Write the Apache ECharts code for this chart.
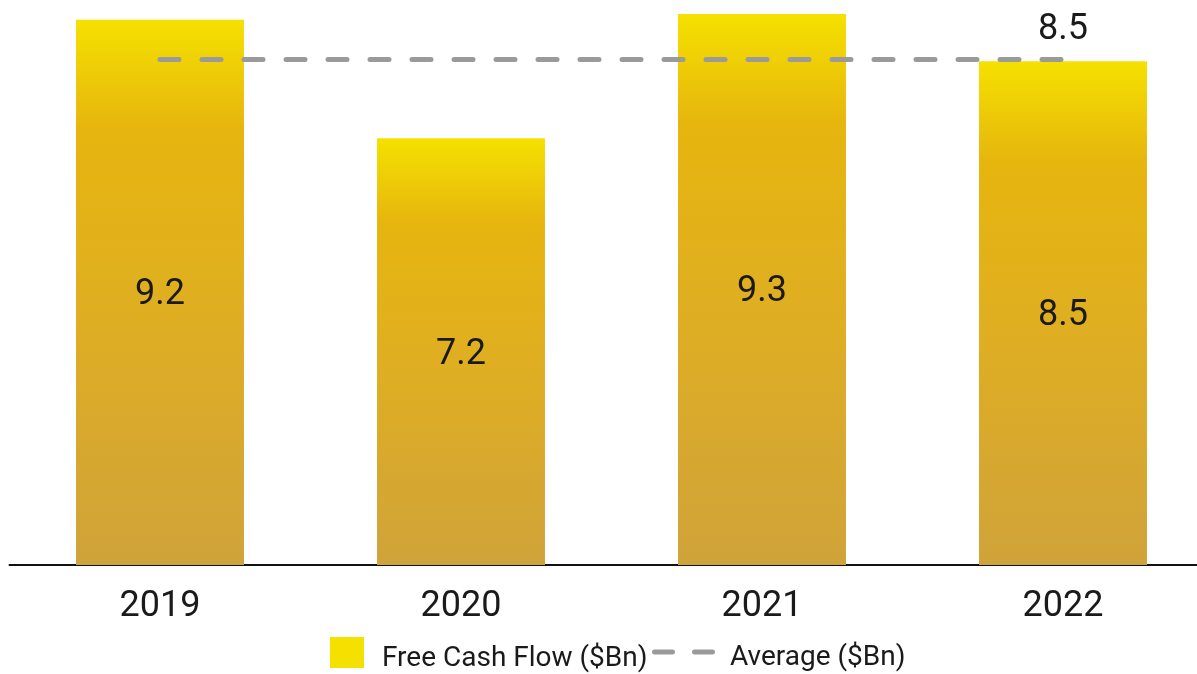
<!DOCTYPE html>
<html>
<head>
<meta charset="utf-8">
<script src="https://cdn.jsdelivr.net/npm/echarts@6/dist/echarts.min.js"></script>
<style>
  html, body { margin: 0; padding: 0; background: #ffffff; }
  #chart { width: 1197px; height: 674px; }
</style>
</head>
<body>
<div id="chart"></div>
<script>
// Free cash flow by year, with the four-year average drawn as a dashed line
const years = ['2019', '2020', '2021', '2022'];
const freeCashFlow = [9.2, 7.2, 9.3, 8.5];
const averageFcf = [8.53, 8.53, 8.53, 8.53];

const textColor = '#1a1a1a';
const avgColor = '#9a9a9a';
const fontFamily = 'Roboto, "Liberation Sans", sans-serif';

const barGradient = new echarts.graphic.LinearGradient(0, 0, 0, 1, [
  { offset: 0, color: '#F5E100' },
  { offset: 0.2, color: '#E6B50E' },
  { offset: 0.5, color: '#E0AF20' },
  { offset: 1, color: '#D0A33A' }
]);

// two rounded dashes used as the legend key of the average line
const dashIcon = 'path://M2.5,0H20.5A2.5,2.5,0,0,1,20.5,5H2.5A2.5,2.5,0,0,1,2.5,0Z' +
                 'M42.5,0H60.5A2.5,2.5,0,0,1,60.5,5H42.5A2.5,2.5,0,0,1,42.5,0Z';

// legend text sits slightly below the centre of its key
const legendText = (leftPad) => ({
  color: textColor,
  fontSize: 28,
  fontFamily: fontFamily,
  rich: {
    t: { color: textColor, fontSize: 28, fontFamily: fontFamily, padding: [12, 0, 0, leftPad] }
  }
});

const chart = echarts.init(document.getElementById('chart'), null, { renderer: 'canvas' });

chart.setOption({
  animation: false,
  backgroundColor: '#ffffff',
  // the plot runs a little past the right edge of the canvas
  grid: { left: 9.5, width: 1204, top: 5, bottom: 109, containLabel: false, outerBoundsMode: 'none' },
  legend: [
    {
      data: [{ name: 'Free Cash Flow ($Bn)', icon: 'rect', itemStyle: { color: '#F5E100' } }],
      left: 325,
      top: 632,
      itemWidth: 34,
      itemHeight: 31,
      formatter: '{t|{name}}',
      textStyle: legendText(13)
    },
    {
      data: [{ name: 'Average ($Bn)', icon: dashIcon, itemStyle: { color: avgColor } }],
      left: 647,
      top: 639,
      itemWidth: 63,
      itemHeight: 5,
      formatter: '{t|{name}}',
      textStyle: legendText(10)
    }
  ],
  xAxis: {
    type: 'category',
    data: years,
    boundaryGap: true,
    axisLine: { show: true, lineStyle: { color: '#111111', width: 2 } },
    axisTick: { show: false },
    axisLabel: { color: textColor, fontSize: 36, fontFamily: fontFamily, margin: 24 },
    splitLine: { show: false }
  },
  yAxis: {
    type: 'value',
    min: 0,
    max: 9.45,
    show: false,
    splitLine: { show: false }
  },
  series: [
    {
      name: 'Free Cash Flow ($Bn)',
      type: 'bar',
      data: freeCashFlow,
      barWidth: '55.8%',
      itemStyle: { color: barGradient },
      label: {
        show: true,
        position: 'inside',
        offset: [0, 3],
        color: textColor,
        fontSize: 36,
        fontFamily: fontFamily,
        formatter: p => p.value.toFixed(1)
      }
    },
    {
      name: 'Average ($Bn)',
      type: 'line',
      symbol: 'circle',
      symbolSize: 0,
      z: 5,
      itemStyle: { color: avgColor },
      lineStyle: { color: avgColor, width: 5, type: [19, 23], cap: 'round' },
      // only the last point carries a value label
      data: averageFcf.map((v, i) => i === averageFcf.length - 1
        ? { value: v,
            label: { show: true, position: 'top', distance: 12, color: textColor,
                     fontSize: 36, fontFamily: fontFamily, formatter: p => p.value.toFixed(1) } }
        : v)
    }
  ]
});
</script>
</body>
</html>
